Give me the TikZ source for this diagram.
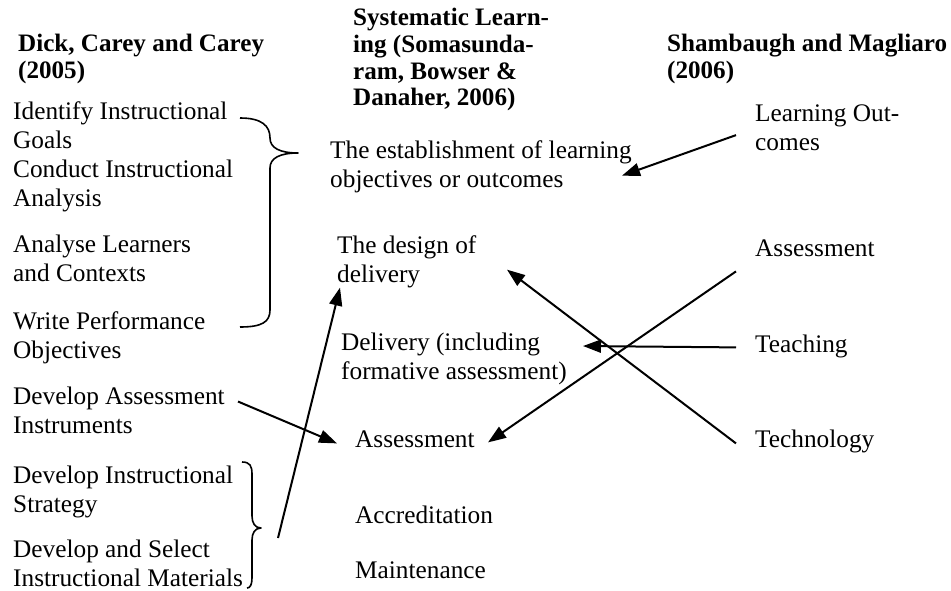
\documentclass[tikz,border=0pt]{standalone}
\usepackage{fontspec}
\setmainfont{Liberation Serif}
\usetikzlibrary{arrows.meta,calc}
\newcommand{\bodysize}{\fontsize{25.3}{29}\selectfont}
\newcommand{\headsize}{\fontsize{25.1}{26.7}\selectfont\bfseries}
\begin{document}
\begin{tikzpicture}[x=1pt, y=-1pt, >={Triangle[length=18pt,width=13pt]}, line join=round]
	\tikzset{item/.style={anchor=north west, inner sep=0pt, align=left, yshift=20.3pt,
			font=\bodysize, execute at begin node=\strut},
		head/.style={anchor=north west, inner sep=0pt, align=left, yshift=18.7pt,
			font=\headsize, execute at begin node=\strut},
		link/.style={->, line width=2pt},
		brace/.style={line width=1.6pt}}
	\useasboundingbox (0,0) rectangle (951,591);
	% column heads
	\node[head] (hdick) at (18,53) {Dick, Carey and Carey\\(2005)};
	\node[head] (hsys) at (353,26.7) {Systematic Learn-\\ing (Somasunda-\\ram, Bowser \&\\Danaher, 2006)};
	\node[head] (hsham) at (667,53) {Shambaugh and Magliaro\\(2006)};
	% Dick, Carey and Carey
	\node[item] (goals) at (13,122) {Identify Instructional\\Goals};
	\node[item] (anal) at (13,180) {Conduct Instructional\\Analysis};
	\node[item] (learn) at (13,255) {Analyse Learners\\and Contexts};
	\node[item] (perf) at (13,332) {Write Performance\\Objectives};
	\node[item] (instr) at (13,407) {Develop Assessment\\Instruments};
	\node[item] (strat) at (13,486) {Develop Instructional\\Strategy};
	\node[item] (mater) at (13,560) {Develop and Select\\Instructional Materials};
	% systematic learning
	\node[item] (est) at (330,161) {The establishment of learning\\objectives or outcomes};
	\node[item] (des) at (337,256) {The design of\\delivery};
	\node[item] (dlv) at (341,353) {Delivery (including\\formative assessment)};
	\node[item] (ma) at (355,447) {Assessment};
	\node[item] (acc) at (355,523) {Accreditation};
	\node[item] (mnt) at (355,578) {Maintenance};
	% Shambaugh and Magliaro
	\node[item] (lo) at (755,125) {Learning Out-\\comes};
	\node[item] (ra) at (755,256) {Assessment};
	\node[item] (rt) at (755,352) {Teaching};
	\node[item] (rg) at (755,447) {Technology};
	%
	\draw[brace] (240,118) .. controls (262,118) and (270,126) .. (270,138)
		.. controls (270,148) and (280,153) .. (298,153)
		.. controls (280,153) and (270,158) .. (270,168)
		-- (270,310) .. controls (270,322) and (262,327) .. (240,327);
	\draw[brace] (242,462) .. controls (250,462) and (252,466) .. (252,474)
		-- (252,516) .. controls (252,523) and (255,528) .. (261,528)
		.. controls (255,528) and (252,533) .. (252,540)
		-- (252,578) .. controls (252,585) and (250,588) .. (247,588);
	\coordinate (btip) at (278,538);
	%
	\draw[link] ($(lo.west)+(-19,3)$) -- ($(est.west)+(292,7)$);
	\draw[link] ($(ra.west)+(-19,21)$) -- ($(ma.west)+(133,1)$);
	\draw[link] ($(rt.west)+(-19,1)$) -- ($(dlv.west)+(242,-14.5)$);
	\draw[link] ($(rg.west)+(-19,2)$) -- ($(des.west)+(170,6)$);
	\draw[link] ($(instr.west)+(225,-13)$) -- ($(ma.west)+(-18,2)$);
	\draw[link] (btip) -- ($(des.south west)+(3,-4)$);
\end{tikzpicture}
\end{document}
